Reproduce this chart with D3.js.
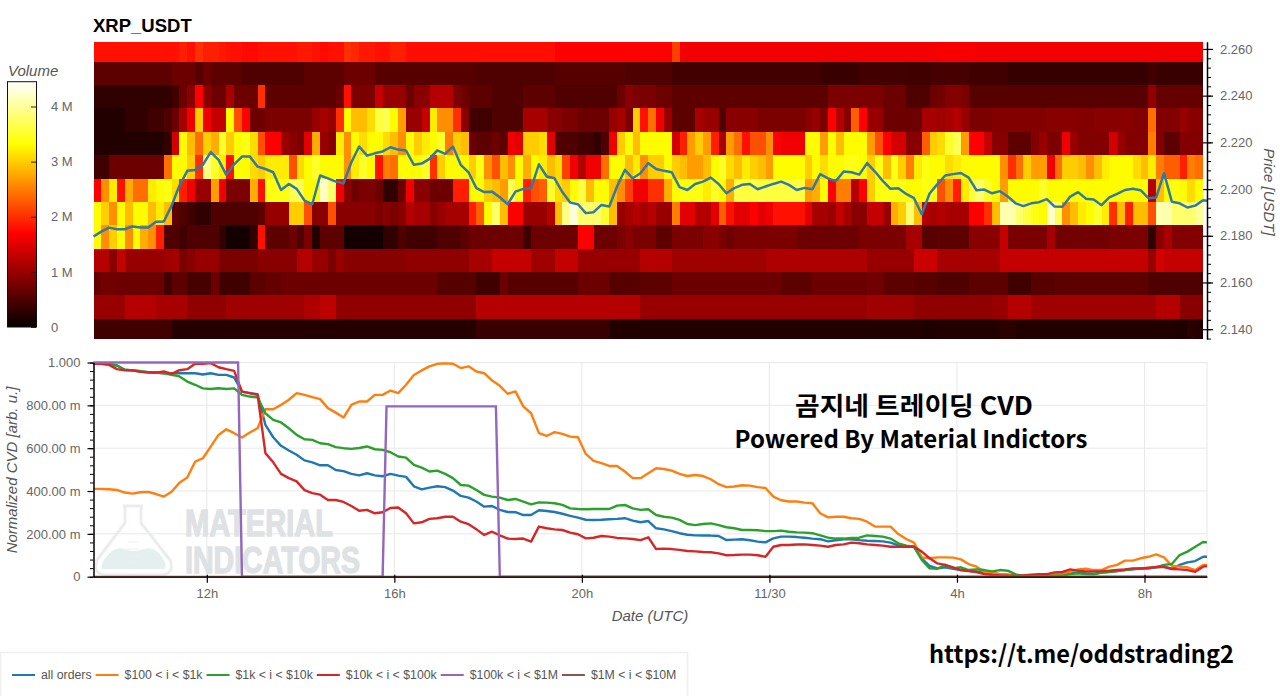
<!DOCTYPE html>
<html>
<head>
<meta charset="utf-8">
<script src="https://cdn.jsdelivr.net/npm/d3@7"></script>
<style>
  html, body { margin: 0; padding: 0; background: #fff; }
  svg { display: block; }
  text { font-family: "Liberation Sans", Arial, sans-serif; }
  .tick text { fill: #666; font-size: 13px; }
  .axis-title { fill: #555; font-size: 15px; font-style: italic; }
  .note { fill: #000; font-weight: 700; font-family: "Noto Sans CJK KR", "Noto Sans", sans-serif; }
</style>
</head>
<body>
<svg id="chart" width="1280" height="696"></svg>
<script>
// ---- heatmap: volume (millions) per 10 minute column, one array per price bucket
const rowPrices = [2.26, 2.25, 2.24, 2.23, 2.22, 2.21, 2.2, 2.19, 2.18, 2.17, 2.16, 2.15, 2.14];

const vol226 = [1.8,1.8,1.8,1.8,1.8,1.8,1.8,1.8,1.8,1.8,
  1.8,1.9,1.8,2,1.9,1.9,1.85,1.8,1.8,1.75,
  1.75,1.8,1.8,1.8,1.8,1.8,1.85,1.85,1.8,1.75,
  1.8,1.8,2,1.95,1.85,1.85,1.8,1.8,1.9,1.9,
  1.78,1.78,1.78,1.78,1.78,1.78,1.78,1.78,1.78,1.78,
  1.78,1.78,1.78,1.78,1.78,1.78,1.78,1.78,1.78,1.7,
  1.7,1.7,1.7,1.7,1.7,1.7,1.7,1.7,1.7,1.7,
  1.7,1.7,1.7,1.7,2.1,1.62,1.62,1.62,1.62,1.62,
  1.62,1.62,1.62,1.62,1.62,1.62,1.62,1.62,1.62,1.62,
  1.62,1.62,1.62,1.62,1.62,1.62,1.62,1.62,1.62,1.62,
  1.62,1.62,1.62,1.62,1.62,1.62,1.62,1.62,1.65,1.65,
  1.65,1.65,1.65,1.62,1.62,1.62,1.62,1.62,1.62,1.62,
  1.62,1.62,1.62,1.62,1.62,1.62,1.62,1.62,1.62,1.62,
  1.62,1.62,1.62,1.62,1.62,1.62,1.62,1.62,1.62,1.62,
  1.62,1.62];
const vol225 = [.6,.6,.6,.6,.6,.6,.6,.6,.6,.6,
  .7,.7,.7,.55,.7,.6,.6,.6,.6,.5,
  .5,.5,.5,.5,.5,.5,.5,.6,.6,.6,
  .6,.6,.7,.7,.7,.7,.55,.55,.55,.55,
  .55,.55,.55,.55,.55,.55,.55,.55,.55,.5,
  .5,.5,.5,.5,.5,.5,.5,.5,.5,.55,
  .55,.55,.55,.55,.55,.55,.55,.55,.5,.5,
  .5,.5,.5,.5,.42,.42,.42,.42,.42,.42,
  .42,.42,.42,.42,.42,.42,.42,.42,.42,.42,
  .42,.42,.42,.35,.35,.35,.35,.35,.42,.42,
  .42,.42,.42,.42,.4,.4,.4,.45,.45,.45,
  .45,.45,.4,.4,.4,.4,.4,.33,.33,.33,
  .33,.33,.33,.33,.33,.33,.33,.33,.33,.33,
  .33,.33,.33,.33,.33,.42,.35,.35,.35,.35,
  .35,.35];
const vol224 = [.3,.3,.3,.3,.3,.3,.3,.3,.3,.3,
  .4,.7,.9,1.7,.9,.7,.7,1.1,.7,.7,
  .7,2,.6,.6,.6,.6,.6,.6,.6,.6,
  .6,.7,1.8,.8,.8,.8,1.3,1,1,1,
  .7,.9,.9,1.2,1.2,1.2,.8,.7,.6,.6,
  .6,.5,.5,.5,.5,.6,.6,.6,.6,.5,
  .5,.5,.5,.5,.5,.5,.5,.7,.9,.8,
  .8,.8,.7,.7,.6,.6,.6,.6,.6,.6,
  .6,.6,.6,.6,.6,.6,.6,.6,.6,.6,
  .6,.6,.6,.6,.8,.8,.8,.8,.8,.8,
  .8,.7,.7,.7,.5,.5,.5,.7,.75,.85,
  .85,.8,.55,.55,.55,.55,.55,.55,.55,.55,
  .55,.55,.55,.55,.55,.55,.55,.55,.55,.55,
  .55,.55,.55,.55,.55,.95,.65,.65,.65,.65,
  .65,.65];
const vol223 = [.2,.2,.2,.2,.3,.3,.3,.4,.4,.5,
  .7,1.1,1.6,3,1.6,1.3,1.3,3.3,2.2,1.7,
  .7,.7,.8,.8,.8,.8,.8,.8,1,1.1,
  1,2,3.3,2.9,2.9,3.1,3.6,3.7,3.3,2.7,
  1,1,1.3,3.2,2.6,2.6,2,.9,.4,.4,
  .4,.5,.5,.5,.5,1.1,1.1,1.1,.9,.9,
  .8,.8,.7,.7,.7,.7,1,1.1,.8,3,
  1.8,2.4,1.6,1,.6,.6,.6,1.1,1,1,
  .5,.9,.9,.9,.9,.8,.8,.8,.8,.8,
  .8,.9,1,.8,1.7,1.2,.9,2.3,1.7,1,
  1,.7,.7,.7,.7,.7,1.1,1.1,1.05,1.1,
  1.2,1,.8,.8,.8,.85,.85,.85,.85,.85,
  .85,.85,.9,.9,.9,.9,.85,.85,.9,.9,
  .9,.9,.9,.85,.85,2.4,.85,.85,.85,1,
  .9,.9];
const vol222 = [.2,.2,.2,.2,.2,.2,.2,.2,.2,.3,
  1.4,3.3,2.9,2.4,3,2.8,3.5,3,3.3,3.4,
  3.1,2.2,1.7,1.7,1,.9,.8,1.5,2.8,1,
  .9,3.2,2.6,3.3,3.1,3.3,3.3,3.1,2.9,2.6,
  3.3,3,3.2,3.3,3.5,2.5,3,2.9,.7,.6,
  .6,.7,.6,1.6,1.5,3,3,3.1,1.5,.5,
  .5,.5,.4,.4,.3,.5,1.6,3,3.3,2.9,
  3.3,3.3,3.3,3.3,1.4,1.9,2.7,3,2.7,1.9,
  1.1,2.7,2.4,1.8,2.2,2.2,2.6,1.7,1.6,1.6,
  1.6,3.3,3.3,2.7,3.3,2.9,3.3,3.3,3.3,2.7,
  2.2,1.7,1.4,1.4,.9,.9,2.3,3,3.1,3.5,
  3.7,2.7,1.7,1.7,1.3,.9,.9,.6,.6,.6,
  .85,1,.8,.8,1.6,1,.85,.85,.85,.85,
  1.4,1,.85,.85,.85,2.5,.85,.6,.6,.85,
  .85,.85];
const vol221 = [.4,.4,.7,.7,.7,.7,.7,.7,.7,2.4,
  3.3,3.3,3,2,3.9,3.5,3.2,1.8,3.3,3.3,
  3.1,3,3.2,3.2,3.2,2.2,3.1,3.3,3.5,3.3,
  3.3,3.3,2.6,3.2,3.5,3.3,1.8,2.5,2.4,3.3,
  3.3,3.3,3.5,2,3,3.3,3.3,3.3,3,3.4,
  2.6,2.2,2.9,2.6,3.3,2.8,3.3,3.2,2.9,3.1,
  2.1,1.6,1.2,1.6,1.6,2.4,3.3,3.3,2.9,3.2,
  2.6,3,3,3.3,3,2.9,2.7,2.7,2.9,3.3,
  3.5,3.1,2.9,3.2,3,2.9,2.7,3.3,3.3,3.3,
  3.3,3,3.3,3.1,3.3,3.3,3.4,3.4,3.3,3,
  3.4,2.9,3.4,3,2.5,3.2,3.4,3.3,3.3,3.1,
  3.2,3.3,3.3,3.3,3.3,3.3,2.6,2,2.4,3,
  2.7,2.7,1.6,2.4,3,3,2.9,2.6,2.9,3.2,
  3.3,3.3,3.3,3.1,2.9,3.2,2.5,2.3,2.3,1.9,
  2.5,2.4];
const vol220 = [1.7,2.6,3.2,1.8,2.8,2.4,2.4,3.2,3.3,3.4,
  3.1,1.9,1.6,1,1,2.7,1.6,.8,.8,.8,
  2.8,1.8,3.4,3.4,3.4,3.7,3.7,3.3,3.3,4.2,
  3.8,1.6,.9,.7,.8,.8,.7,.3,.3,.7,
  1.6,.9,.9,.7,.7,.7,1.9,1.9,3.3,3.3,
  3,2.9,2.7,3.7,3.3,1.9,2.2,2.3,3.5,3.1,
  3,3.3,3.6,2.9,3.3,3.3,2.9,2.6,2.1,1.6,
  1.6,2,2,2.8,3.3,3.4,3.4,3.4,3.2,3.5,
  3.3,2.8,3.6,3.6,3.6,3.6,3.6,3.6,3.6,3.6,
  3.6,2.7,2.8,3.3,1.7,2.5,2.5,1.2,1.7,3,
  3.4,3.4,3.4,3.4,3.3,3.3,3.4,3.4,2.2,2.6,
  1.9,3.2,3.6,3.8,3.5,3.3,2.7,3.3,3.3,3.3,
  3.3,3.5,3.3,3.3,3.3,3.3,3.3,3.3,3.3,3.3,
  3.3,3.3,3.3,3.3,3.3,1.2,2.9,3.3,3.4,3.3,
  3.1,3.3];
const vol219 = [3.3,3,2.6,3.3,2.9,3.3,3.3,2.9,3.2,2.9,
  .6,.5,.4,.3,.3,.5,.5,.5,.5,.5,
  .5,.6,1,1,1,3,3,2.2,.9,.9,
  2.2,.9,.9,.9,.9,.9,.8,.9,.8,.9,
  1.2,1.1,1.1,.9,1,1.1,1.1,1.1,1.9,2.3,
  3.3,3.8,2.9,1.7,1.7,1,1,1,1.2,2.9,
  3.9,4.3,3.8,3.8,3.8,3.5,2.9,1,1.1,1.2,
  1.1,1.2,1,1,2.5,1.5,1.5,1.2,1.2,1.5,
  2.3,1.8,1.5,1.5,1.7,1.5,1.6,1.8,1.8,1.8,
  1.8,1.5,1.1,1.1,1,1.3,1.1,.9,.9,1.3,
  1.3,1,2.8,3,3.8,2.9,1.2,1.1,1.2,1.1,
  1.1,1.1,1.7,1.7,2,2.9,4.1,4.1,3.8,3.6,
  3.4,3.3,4.2,3.7,2.6,2.9,3.2,3.3,3.5,3.2,
  2,2.9,1.9,2.9,2.9,2.2,4.1,4.1,3.8,3.8,
  3.8,4];
const vol218 = [3.3,2.6,3,3.3,2.6,3.3,2.8,2.6,1.9,.5,
  .5,.4,.5,.5,.5,.5,.3,.1,.1,.1,
  .3,1.8,.6,.6,.6,.7,.5,.8,.2,.6,
  .6,.6,.1,.1,.1,.1,.1,.3,.3,.5,
  .4,.4,.4,.4,.5,.5,.5,.6,.7,.7,
  .7,.7,.7,.7,.7,.4,.7,.7,.7,.7,
  .7,.7,1.7,1.7,.7,.7,.7,.8,.9,.8,
  .8,.8,.6,.6,.8,.8,.8,.8,.9,.9,
  .8,.7,.8,.8,.8,.8,.8,.8,.8,.8,
  .7,.7,.7,.7,.7,.7,.7,.7,.8,.8,
  .8,.8,.8,.8,1.1,1.1,.55,.55,.6,.6,
  .6,.6,.9,.9,.9,.9,1.3,.8,.8,.8,
  .8,.8,1.1,.75,.75,.75,.75,.75,.75,.75,
  .8,.8,.8,.8,.8,.3,.9,1.1,.85,.85,
  .85,.85];
const vol217 = [1.2,1.2,.9,1.3,1,1,1,1,1,1.05,
  1.1,.8,.9,1,1,1,.8,.8,.8,.8,
  .8,.9,.9,.9,.9,.9,1.2,1.2,1,1,
  .8,1,.9,.9,.9,.9,.9,.9,.9,.9,
  .95,.95,.95,.95,.95,.95,.95,.95,1.1,1.1,
  1.1,1.3,1.3,1.3,1.3,1.3,1.05,1.05,1.05,1.3,
  1.3,1.3,1,1,1,1,1,1,1,1,
  1.2,1.2,1.2,1.2,1.05,1.05,1.05,1.05,1.05,1.05,
  1.05,1.05,1.05,1.05,1.05,1.05,1.15,1.15,1.15,1.15,
  1.15,1.15,1.15,1.15,1.15,1.15,1.15,1.15,1.15,1,
  1,1,1,1,1,1.35,1.35,1.35,1.1,1.1,
  1.1,1.1,1.1,1.1,1.1,1.1,1.3,1.3,1.3,1.3,
  1.3,1.3,1.3,1.3,1.3,1.3,1.3,1.3,1.3,1.3,
  1.3,1.3,1.3,1.3,1.3,1,1.4,1.3,1.3,1.3,
  1.3,1.3];
const vol216 = [.65,.75,.75,.7,.7,.7,.7,.7,.7,.4,
  .6,.6,.45,.45,.45,.7,.4,.4,.4,.4,
  .6,.6,.65,.65,.7,.7,.7,.7,.7,.7,
  .7,.7,.7,.7,.7,.7,.7,.7,.7,.7,
  .7,.7,.7,.7,.55,.55,.55,.55,.55,.4,
  .4,.4,.7,.55,.55,.55,.55,.55,.55,.55,
  .55,.55,.7,.7,.7,.7,.55,.55,.55,.55,
  .6,.6,.6,.6,.7,.7,.7,.7,.7,.7,
  .7,.7,.7,.7,.7,.7,.7,.7,.6,.6,
  .6,.6,.7,.7,.7,.7,.7,.7,.7,.75,
  .75,.6,.6,.6,.6,.55,.55,.55,.5,.5,
  .5,.5,.6,.6,.6,.6,.6,.4,.4,.4,
  .55,.55,.55,.6,.6,.6,.6,.6,.6,.6,
  .6,.6,.6,.6,.6,.5,.5,.5,.5,.5,
  .5,.5];
const vol215 = [1,1,1,1,1.2,1.2,1.2,1.2,1.1,1.1,
  1.1,1.1,.95,.95,.95,.95,.95,1.05,1.05,1.05,
  1.05,1.05,1.05,1.05,1.05,1.05,1.05,1.15,1.15,1.25,
  1.25,.95,.95,.95,.95,.95,.95,.95,.95,.95,
  .95,.95,.95,.95,.95,.95,.95,.95,.95,1.2,
  1.2,1.2,1.2,1.2,1.2,1.2,1.2,1.2,1.2,1.2,
  1.2,1.2,1.2,1.2,1.2,1.2,1.2,1.2,1.2,1.2,
  1,1,1,1,1,1,1,1,1,1,
  1,1,1,1,1,1,1,1,1,1,
  1,1,1,1,1,1,1,1,1,1.05,
  1.05,1.05,1.05,1.05,1.05,.95,.95,.95,.95,.95,
  .95,.95,.95,.95,.95,1,1,1.2,1.2,1.2,
  1.05,1.05,1.05,1.05,1.05,1.05,1.05,1.05,1.05,1.05,
  1.05,1.05,1.05,1.05,1.05,1.05,1.2,1.2,1.2,.9,
  .9,.9];
const vol214 = [.4,.4,.4,.4,.4,.4,.4,.4,.4,.4,
  .22,.22,.22,.22,.22,.22,.22,.22,.22,.22,
  .22,.22,.22,.22,.22,.22,.22,.22,.22,.22,
  .22,.22,.22,.22,.22,.22,.22,.22,.22,.22,
  .22,.22,.22,.22,.22,.22,.22,.22,.22,.35,
  .35,.35,.35,.35,.35,.35,.35,.35,.35,.35,
  .35,.35,.35,.35,.35,.35,.2,.2,.2,.2,
  .2,.2,.2,.2,.2,.2,.2,.2,.2,.2,
  .2,.2,.2,.2,.2,.2,.2,.2,.2,.2,
  .2,.2,.2,.2,.2,.2,.2,.2,.2,.2,
  .2,.2,.2,.2,.2,.2,.17,.17,.2,.2,
  .2,.2,.2,.2,.2,.2,.25,.25,.2,.2,
  .2,.2,.2,.2,.2,.2,.2,.2,.2,.2,
  .2,.2,.2,.2,.2,.2,.2,.2,.17,.17,
  .25,.2];
const volumeRows = [vol226, vol225, vol224, vol223, vol222, vol221, vol220, vol219, vol218, vol217, vol216, vol215, vol214];

// ---- price line, one sample per 10 minutes, the last one at the chart end
const priceValues = [2.1797,2.1818,2.1835,2.1828,2.1828,2.184,2.1835,2.1835,2.186,2.1861,
  2.1929,2.2015,2.2078,2.2082,2.2104,2.2158,2.2125,2.2061,2.2106,2.2139,
  2.2139,2.2096,2.2086,2.2072,2.1996,2.2022,2.2001,2.1951,2.1935,2.2058,
  2.2046,2.2032,2.2025,2.2115,2.2182,2.2143,2.2153,2.2161,2.2179,2.2169,
  2.2165,2.2104,2.2109,2.2129,2.2166,2.2151,2.2182,2.2104,2.2071,2.2004,
  2.1987,2.1989,2.1965,2.1935,2.1989,2.2001,2.2004,2.2106,2.2054,2.2046,
  2.1987,2.1942,2.1935,2.1897,2.1901,2.1932,2.1925,2.2011,2.2082,2.2046,
  2.2068,2.2111,2.2086,2.2078,2.2072,2.2008,2.1996,2.2022,2.2032,2.2049,
  2.2022,2.1982,2.2004,2.2018,2.2022,2.1999,2.2011,2.2022,2.2032,2.2018,
  2.1996,2.2005,2.1999,2.2064,2.2046,2.2034,2.2075,2.2072,2.2062,2.2111,
  2.2075,2.2035,2.2001,2.2004,2.1979,2.1961,2.1892,2.1981,2.2021,2.2058,
  2.2064,2.2069,2.2049,2.1995,2.1998,2.1982,2.1991,2.1968,2.1939,2.1927,
  2.1939,2.1944,2.1957,2.1925,2.1924,2.1968,2.1987,2.1959,2.1955,2.1931,
  2.1964,2.1979,2.1996,2.2001,2.1995,2.1961,2.1964,2.2068,2.1946,2.1939,
  2.1921,2.1929,2.1952,2.195];

// ---- normalized CVD, same sampling as the price line
const cvdAll = [.994,.994,.991,.986,.966,.963,.958,.955,.953,.95,
  .95,.95,.95,.95,.944,.95,.942,.942,.93,.864,
  .857,.852,.709,.651,.611,.589,.569,.543,.534,.52,
  .52,.498,.493,.48,.473,.483,.473,.469,.48,.472,
  .466,.422,.408,.416,.422,.418,.402,.377,.369,.351,
  .327,.33,.312,.302,.301,.288,.288,.31,.307,.302,
  .294,.284,.276,.266,.265,.266,.268,.27,.273,.262,
  .254,.26,.226,.221,.213,.203,.196,.193,.192,.192,
  .19,.171,.173,.175,.17,.164,.16,.179,.187,.187,
  .185,.182,.178,.175,.165,.17,.175,.175,.171,.168,
  .167,.165,.159,.146,.143,.139,.086,.05,.039,.044,
  .037,.031,.028,.023,.019,.016,.012,.009,.006,.003,
  .003,.005,.005,.008,.008,.016,.019,.016,.014,.019,
  .023,.026,.031,.034,.039,.039,.044,.047,.037,.055,
  .067,.073,.093,.093];
const cvd100To1k = [.41,.41,.408,.405,.393,.388,.394,.396,.386,.374,
  .397,.439,.463,.537,.553,.607,.662,.688,.67,.65,
  .673,.693,.782,.782,.802,.826,.857,.849,.838,.829,
  .787,.766,.743,.802,.818,.818,.849,.849,.869,.857,
  .896,.942,.963,.982,.994,.996,.994,.974,.982,.958,
  .95,.916,.891,.854,.865,.795,.763,.67,.657,.675,
  .667,.654,.651,.573,.541,.53,.517,.517,.491,.46,
  .46,.483,.506,.503,.495,.48,.47,.475,.47,.455,
  .432,.418,.421,.427,.425,.418,.414,.374,.357,.351,
  .351,.346,.343,.296,.277,.28,.28,.273,.27,.257,
  .234,.234,.234,.199,.176,.159,.09,.086,.09,.09,
  .089,.081,.059,.047,.023,.019,.012,.008,.003,.005,
  .005,.008,.008,.012,.012,.023,.034,.037,.031,.031,
  .047,.055,.075,.075,.086,.093,.104,.09,.051,.047,
  .044,.031,.055,.055];
const cvd1kTo10k = [.994,.994,.994,.986,.966,.963,.96,.955,.953,.95,
  .943,.935,.911,.896,.879,.876,.88,.876,.879,.849,
  .841,.837,.763,.732,.72,.693,.662,.642,.639,.623,
  .619,.605,.6,.597,.601,.608,.595,.592,.581,.561,
  .556,.522,.509,.491,.495,.48,.46,.428,.425,.405,
  .382,.374,.369,.358,.363,.351,.338,.347,.346,.343,
  .335,.319,.316,.315,.316,.316,.316,.332,.335,.319,
  .312,.315,.288,.28,.276,.265,.246,.241,.246,.249,
  .241,.231,.226,.218,.218,.217,.213,.213,.215,.21,
  .207,.206,.203,.193,.182,.178,.178,.181,.182,.193,
  .19,.187,.178,.156,.145,.14,.078,.039,.037,.055,
  .039,.044,.031,.034,.031,.025,.031,.028,.011,.003,
  .003,.003,.003,.005,.005,.012,.016,.012,.011,.019,
  .022,.026,.031,.036,.037,.039,.045,.055,.059,.101,
  .117,.14,.162,.16];
const cvd10kTo100k = [.994,.994,.989,.969,.964,.963,.956,.953,.953,.958,
  .947,.964,.969,.994,.994,.997,.978,.969,.961,.864,
  .857,.849,.577,.534,.48,.46,.445,.404,.39,.383,
  .358,.358,.349,.33,.308,.312,.296,.301,.321,.323,
  .296,.249,.254,.27,.273,.28,.28,.257,.245,.221,
  .195,.21,.193,.178,.176,.178,.164,.234,.226,.221,
  .218,.206,.198,.179,.182,.19,.187,.181,.179,.176,
  .171,.184,.129,.131,.129,.125,.12,.118,.115,.114,
  .109,.1,.101,.103,.103,.1,.093,.14,.148,.148,
  .15,.151,.148,.145,.14,.148,.151,.159,.156,.151,
  .148,.145,.14,.14,.14,.14,.117,.086,.062,.055,
  .044,.031,.026,.022,.012,.008,.006,.005,.003,.006,
  .009,.012,.012,.02,.022,.034,.028,.025,.025,.026,
  .028,.031,.034,.039,.039,.042,.045,.045,.036,.034,
  .031,.023,.047,.05];
// these two only change in steps, so they get their own sample times
const cvd100kTo1mMinutes = [0, 185, 190, 370, 375, 515, 520, 1425];
const cvd100kTo1m = [1, 1, 0, 0, 0.795, 0.795, 0, 0];
const cvd1mTo10mMinutes = [0, 1425];
const cvd1mTo10m = [0, 0];

const seriesLabels = ["all orders", "$100 < i < $1k", "$1k < i < $10k", "$10k < i < $100k", "$100k < i < $1M", "$1M < i < $10M"];
const seriesColors = ["#1f77b4", "#ff7f0e", "#2ca02c", "#d62728", "#9467bd", "#8c564b"];

// ticks
const timeTickMinutes = [145, 385, 625, 865, 1105, 1345];
const timeTickLabels = ["12h", "16h", "20h", "11/30", "4h", "8h"];
const priceTicks = [2.14, 2.16, 2.18, 2.2, 2.22, 2.24, 2.26];
const priceTickLabels = ["2.140", "2.160", "2.180", "2.200", "2.220", "2.240", "2.260"];
const cvdTicks = [0, 0.2, 0.4, 0.6, 0.8, 1];
const cvdTickLabels = ["0", "200.00 m", "400.00 m", "600.00 m", "800.00 m", "1.000"];
const volumeTicks = [0, 1, 2, 3, 4];
const volumeTickLabels = ["0", "1 M", "2 M", "3 M", "4 M"];

function init() {
  const svg = d3.select("#chart");

  const x = d3.scaleLinear().domain([0, 1425]).range([93.5, 1207]);
  const yPrice = d3.scaleLinear().domain([2.1358, 2.2631]).range([339, 41.7]);
  const yCvd = d3.scaleLinear().domain([0, 1]).range([576.7, 362.5]);
  const yVolume = d3.scaleLinear().domain([0, 4.45]).range([327, 81.7]);
  const hot = d3.scaleLinear()
    .domain([0, 1.7, 3.32, 4.45])
    .range(["#050000", "#ff0000", "#ffff00", "#ffffff"])
    .clamp(true);

  drawHeatmap(svg, x, yPrice, hot);
  drawColorbar(svg, yVolume, hot);
  drawCvd(svg, x, yCvd);
  drawLegend(svg);
  drawNotes(svg);
}

function drawHeatmap(svg, x, yPrice, hot) {
  svg.append("text")
    .attr("x", 93)
    .attr("y", 32)
    .style("font-size", "18.5px")
    .style("font-weight", "700")
    .text("XRP_USDT");

  const cells = [];
  volumeRows.forEach((row, r) => {
    row.forEach((v, c) => cells.push({ price: rowPrices[r], col: c, v: v }));
  });

  svg.append("g")
    .selectAll("rect")
    .data(cells)
    .join("rect")
    .attr("x", (d) => x(d.col * 10))
    .attr("width", (d) => x((d.col + 1) * 10) - x(d.col * 10))
    .attr("y", (d) => Math.max(yPrice.range()[1], yPrice(d.price + 0.0045)))
    .attr("height", (d) =>
      Math.min(yPrice.range()[0], yPrice(d.price - 0.0055)) -
      Math.max(yPrice.range()[1], yPrice(d.price + 0.0045)))
    .attr("fill", (d) => hot(d.v))
    .attr("shape-rendering", "crispEdges");

  const priceLine = d3.line()
    .x((d, i) => x(Math.min(i * 10, 1425)))
    .y((d) => yPrice(d));

  svg.append("path")
    .attr("d", priceLine(priceValues))
    .attr("fill", "none")
    .attr("stroke", "#2f7ba6")
    .attr("stroke-width", 2.5)
    .attr("stroke-linejoin", "round");

  const minor = svg.append("g")
    .attr("transform", "translate(1207,0)")
    .call(d3.axisRight(yPrice).tickValues(d3.range(2.136, 2.2631, 0.004)).tickSize(4).tickFormat(""));
  minor.select(".domain").remove();

  const axis = svg.append("g")
    .attr("transform", "translate(1207,0)")
    .call(d3.axisRight(yPrice)
      .tickValues(priceTicks)
      .tickSizeInner(6)
      .tickSizeOuter(0)
      .tickPadding(7)
      .tickFormat((d, i) => priceTickLabels[i]));
  axis.select(".domain").attr("stroke-width", 1.5);
  axis.selectAll(".tick line").attr("x1", -4).attr("stroke-width", 1.2);

  svg.append("text")
    .attr("class", "axis-title")
    .attr("transform", "translate(1264,192) rotate(90)")
    .attr("text-anchor", "middle")
    .text("Price [USDT]");
}

function drawColorbar(svg, yVolume, hot) {
  svg.append("text")
    .attr("class", "axis-title")
    .attr("x", 8)
    .attr("y", 76)
    .text("Volume");

  // one rect per pixel row of the bar
  const steps = d3.range(327, 81.7, -1);
  svg.append("g")
    .selectAll("rect")
    .data(steps)
    .join("rect")
    .attr("x", 7.5)
    .attr("width", 29)
    .attr("y", (d) => d - 1)
    .attr("height", 1)
    .attr("fill", (d) => hot(yVolume.invert(d - 0.5)))
    .attr("shape-rendering", "crispEdges");

  svg.append("rect")
    .attr("x", 7.5)
    .attr("y", 81.7)
    .attr("width", 29)
    .attr("height", 245.3)
    .attr("fill", "none")
    .attr("stroke", "#111")
    .attr("stroke-width", 1);

  const axis = svg.append("g")
    .attr("transform", "translate(36,0)")
    .call(d3.axisRight(yVolume)
      .tickValues(volumeTicks)
      .tickSizeInner(0)
      .tickSizeOuter(0)
      .tickPadding(15)
      .tickFormat((d, i) => volumeTickLabels[i]));
  axis.select(".domain").remove();
  axis.selectAll(".tick line").attr("x1", -5).attr("x2", 0).attr("stroke", "#222");
}

function drawCvd(svg, x, yCvd) {
  // grid first, the last vertical and the top line close the frame
  const grid = svg.append("g").attr("stroke", "#e8e8e8").attr("stroke-width", 1);
  grid.selectAll("line.h")
    .data(cvdTicks.slice(1))
    .join("line")
    .attr("class", "h")
    .attr("x1", x(0))
    .attr("x2", x(1425))
    .attr("y1", (d) => yCvd(d))
    .attr("y2", (d) => yCvd(d));
  grid.selectAll("line.v")
    .data(timeTickMinutes.concat([1425]))
    .join("line")
    .attr("class", "v")
    .attr("x1", (d) => x(d))
    .attr("x2", (d) => x(d))
    .attr("y1", yCvd(1))
    .attr("y2", yCvd(0));

  drawWatermark(svg);

  const sampleLine = d3.line()
    .x((d, i) => x(Math.min(i * 10, 1425)))
    .y((d) => yCvd(d));
  [cvdAll, cvd100To1k, cvd1kTo10k, cvd10kTo100k].forEach((values, i) => {
    svg.append("path")
      .attr("d", sampleLine(values))
      .attr("fill", "none")
      .attr("stroke", seriesColors[i])
      .attr("stroke-width", 2.4)
      .attr("stroke-linejoin", "round");
  });

  const stepLine = (minutes) => d3.line()
    .x((d, i) => x(minutes[i]))
    .y((d) => yCvd(d));
  svg.append("path")
    .attr("d", stepLine(cvd100kTo1mMinutes)(cvd100kTo1m))
    .attr("fill", "none")
    .attr("stroke", seriesColors[4])
    .attr("stroke-width", 2.4);
  svg.append("path")
    .attr("d", stepLine(cvd1mTo10mMinutes)(cvd1mTo10m))
    .attr("fill", "none")
    .attr("stroke", seriesColors[5])
    .attr("stroke-width", 2);

  const minor = svg.append("g")
    .attr("transform", `translate(${x(0)},0)`)
    .call(d3.axisLeft(yCvd).tickValues(d3.range(0, 1.001, 0.04)).tickSize(3.5).tickFormat(""));
  minor.select(".domain").remove();

  const yAxis = svg.append("g")
    .attr("transform", `translate(${x(0)},0)`)
    .call(d3.axisLeft(yCvd)
      .tickValues(cvdTicks)
      .tickSizeInner(6)
      .tickSizeOuter(0)
      .tickPadding(7)
      .tickFormat((d, i) => cvdTickLabels[i]));
  yAxis.select(".domain").attr("stroke-width", 1.5);
  yAxis.selectAll(".tick line").attr("stroke-width", 1.2);

  const xAxis = svg.append("g")
    .attr("transform", `translate(0,${yCvd(0)})`)
    .call(d3.axisBottom(x)
      .tickValues(timeTickMinutes)
      .tickSizeInner(6)
      .tickSizeOuter(0)
      .tickPadding(6)
      .tickFormat((d, i) => timeTickLabels[i]));
  xAxis.select(".domain").attr("stroke-width", 1.2);
  xAxis.selectAll(".tick line").attr("y1", -2).attr("stroke-width", 1.2);

  svg.append("text")
    .attr("class", "axis-title")
    .attr("x", 650)
    .attr("y", 621)
    .attr("text-anchor", "middle")
    .text("Date (UTC)");

  svg.append("text")
    .attr("class", "axis-title")
    .attr("transform", "translate(17,470) rotate(-90)")
    .attr("text-anchor", "middle")
    .text("Normalized CVD [arb. u.]");
}

function drawWatermark(svg) {
  const mark = svg.append("g").attr("fill", "none");
  mark.append("path")
    .attr("d", "M123,506 L143,506 M125,506 L125,523 L97,560 Q92,574 106,575 L161,575 Q175,574 170,560 L141,523 L141,506")
    .attr("stroke", "#ebedec")
    .attr("stroke-width", 3);
  mark.append("path")
    .attr("d", "M102,569 Q101,562 108,555 Q115,546 124,549 Q133,553 144,549 Q154,546 161,556 Q167,563 165,569 Z")
    .attr("fill", "#e4f0ee");
  mark.append("path")
    .attr("d", "M128,542 L138,542 M127,549 L139,549 M127,556 L139,556 M128,563 L138,563")
    .attr("stroke", "#eeeeee")
    .attr("stroke-width", 1);
  ["MATERIAL", "INDICATORS"].forEach((word, i) => {
    svg.append("text")
      .attr("x", 185)
      .attr("y", i === 0 ? 536 : 573)
      .attr("textLength", i === 0 ? 148 : 175)
      .attr("lengthAdjust", "spacingAndGlyphs")
      .attr("fill", "#dfe2e4")
      .attr("stroke", "#dfe2e4")
      .attr("stroke-width", 1.4)
      .style("font-family", '"Liberation Sans Narrow", "Liberation Sans", sans-serif')
      .style("font-size", "36px")
      .style("font-weight", "700")
      .text(word);
  });
}

function drawLegend(svg) {
  svg.append("rect")
    .attr("x", 0.5)
    .attr("y", 652.5)
    .attr("width", 687)
    .attr("height", 50)
    .attr("fill", "#fff")
    .attr("stroke", "#efefef")
    .attr("stroke-width", 1.5);

  let left = 12;
  seriesLabels.forEach((label, i) => {
    svg.append("line")
      .attr("x1", left)
      .attr("x2", left + 23)
      .attr("y1", 675)
      .attr("y2", 675)
      .attr("stroke", seriesColors[i])
      .attr("stroke-width", 2);
    const t = svg.append("text")
      .attr("x", left + 29)
      .attr("y", 679)
      .attr("fill", "#555")
      .style("font-size", "12.3px")
      .text(label);
    left += 29 + t.node().getComputedTextLength() + 4;
  });
}

function drawNotes(svg) {
  svg.append("text")
    .attr("class", "note")
    .attr("x", 795)
    .attr("y", 415)
    .attr("textLength", 238)
    .attr("lengthAdjust", "spacingAndGlyphs")
    .style("font-size", "25px")
    .text("곰지네 트레이딩 CVD");
  svg.append("text")
    .attr("class", "note")
    .attr("x", 911)
    .attr("y", 448)
    .attr("text-anchor", "middle")
    .style("font-size", "24px")
    .text("Powered By Material Indictors");
  svg.append("text")
    .attr("class", "note")
    .attr("x", 929)
    .attr("y", 663)
    .attr("textLength", 305)
    .attr("lengthAdjust", "spacingAndGlyphs")
    .style("font-size", "24px")
    .text("https://t.me/oddstrading2");
}

init();
</script>
</body>
</html>
